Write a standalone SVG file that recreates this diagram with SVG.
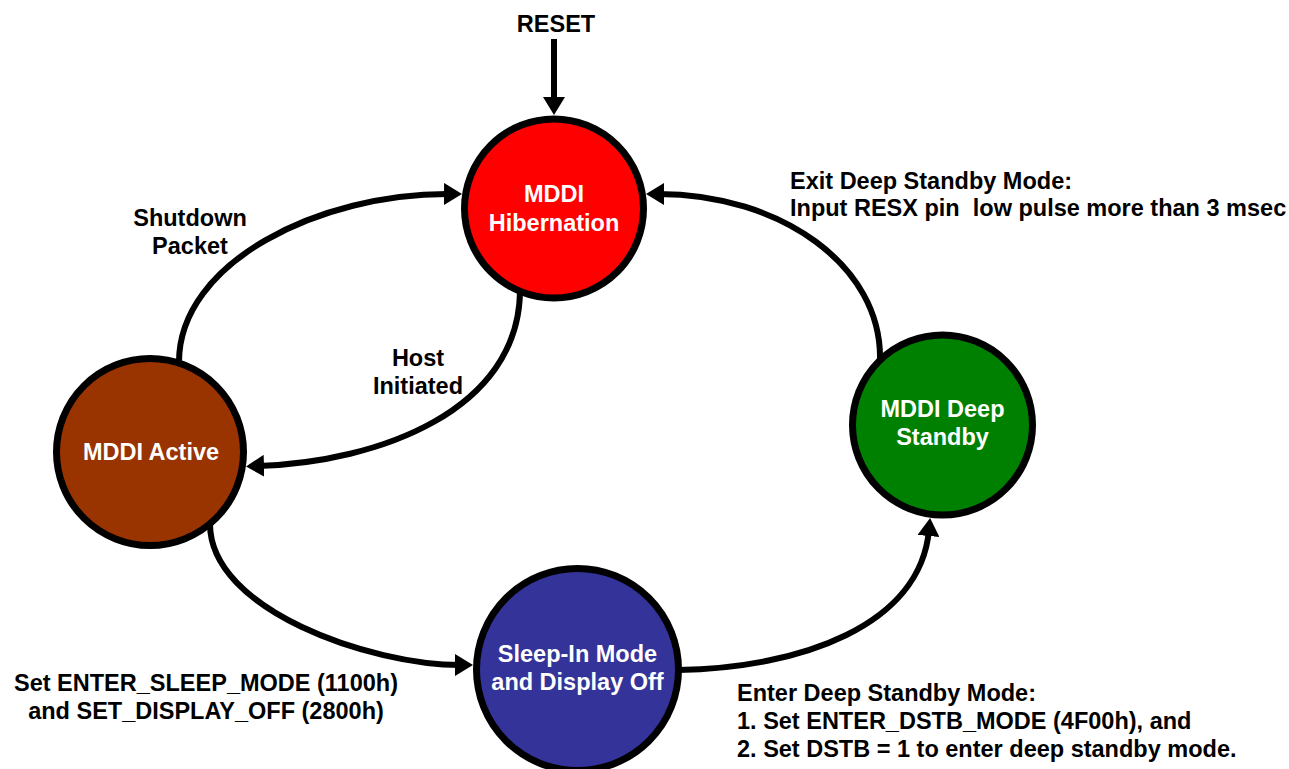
<svg xmlns="http://www.w3.org/2000/svg" width="1289" height="769" viewBox="0 0 1289 769">
<style>
  text { font-family: "Liberation Sans", Arial, sans-serif; font-weight: bold; font-size: 23.5px; }
  .lbl { fill: #000; }
  .nt { fill: #fff; text-anchor: middle; }
  .conn { fill: none; stroke: #000; stroke-width: 6; marker-end: url(#arr); }
  .node { stroke: #000; stroke-width: 7; }
</style>
<defs>
  <marker id="arr" markerUnits="userSpaceOnUse" viewBox="0 0 18 22" refX="6" refY="11" markerWidth="18" markerHeight="22" orient="auto">
    <path d="M0,0 L18,11 L0,22 z" fill="#000"/>
  </marker>
</defs>
<rect width="1289" height="769" fill="#fff"/>

<g id="connectors">
  <path class="conn" d="M554,39 L554,103"/>
  <path class="conn" d="M179,362 C179,262 320,193 450,194"/>
  <path class="conn" d="M520,292 C518,410 380,462 258,466"/>
  <path class="conn" d="M210,524 C210,610 370,665 461,665"/>
  <path class="conn" d="M678,670 C800,668 920,626 929,530"/>
  <path class="conn" d="M880,360 C882,266 781,194 658,194"/>
</g>

<g id="labels">
  <text class="lbl" x="556" y="32" text-anchor="middle">RESET</text>
  <text class="lbl" x="190" y="226" text-anchor="middle">Shutdown</text>
  <text class="lbl" x="190" y="254" text-anchor="middle">Packet</text>
  <text class="lbl" x="418" y="366" text-anchor="middle">Host</text>
  <text class="lbl" x="418" y="394" text-anchor="middle">Initiated</text>
  <text class="lbl" x="790" y="189">Exit Deep Standby Mode:</text>
  <text class="lbl" x="790" y="216" style="white-space:pre" xml:space="preserve">Input RESX pin  low pulse more than 3 msec</text>
  <text class="lbl" x="206" y="691" text-anchor="middle">Set ENTER_SLEEP_MODE (1100h)</text>
  <text class="lbl" x="206" y="719" text-anchor="middle">and SET_DISPLAY_OFF (2800h)</text>
  <text class="lbl" x="737" y="701">Enter Deep Standby Mode:</text>
  <text class="lbl" x="737" y="729">1. Set ENTER_DSTB_MODE (4F00h), and</text>
  <text class="lbl" x="737" y="757">2. Set DSTB = 1 to enter deep standby mode.</text>
</g>

<g id="node-hibernation">
  <circle class="node" cx="554" cy="208.5" r="89.5" fill="#FF0000"/>
  <text class="nt" x="554" y="202">MDDI</text>
  <text class="nt" x="554" y="231">Hibernation</text>
</g>
<g id="node-active">
  <circle class="node" cx="150" cy="452" r="93.5" fill="#993300"/>
  <text class="nt" x="151" y="460">MDDI Active</text>
</g>
<g id="node-sleep">
  <circle class="node" cx="577.5" cy="669.5" r="101" fill="#333399"/>
  <text class="nt" x="577.5" y="662">Sleep-In Mode</text>
  <text class="nt" x="577.5" y="690">and Display Off</text>
</g>
<g id="node-deepstandby">
  <circle class="node" cx="942.5" cy="425" r="90" fill="#008000"/>
  <text class="nt" x="942.5" y="417">MDDI Deep</text>
  <text class="nt" x="942.5" y="445">Standby</text>
</g>
</svg>
